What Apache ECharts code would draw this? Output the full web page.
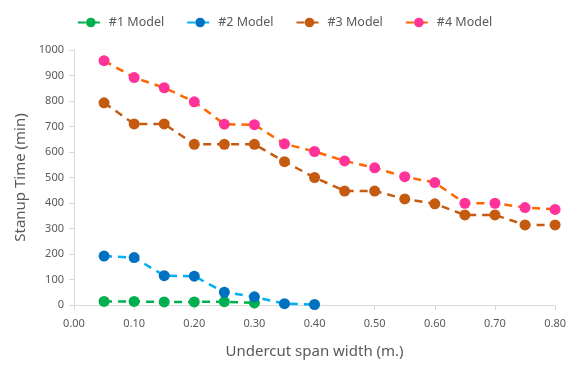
<!DOCTYPE html>
<html>
<head>
<meta charset="utf-8">
<script src="https://cdn.jsdelivr.net/npm/echarts@6/dist/echarts.min.js"></script>
<style>
  html, body { margin: 0; padding: 0; background: #fff; }
  #chart { width: 569px; height: 365px; }
</style>
</head>
<body>
<div id="chart"></div>
<script>
const spanWidth = [0.05, 0.10, 0.15, 0.20, 0.25, 0.30, 0.35, 0.40, 0.45, 0.50, 0.55, 0.60, 0.65, 0.70, 0.75, 0.80];
const model1 = [14, 14, 12, 12, 13, 8];
const model2 = [192, 186, 115, 113, 50, 32, 5, 2];
const model3 = [793, 710, 710, 630, 630, 630, 562, 500, 447, 447, 416, 397, 353, 353, 314, 314];
const model4 = [958, 892, 852, 797, 709, 707, 632, 602, 565, 538, 503, 480, 399, 399, 382, 375];

const seriesNames = ['#1 Model', '#2 Model', '#3 Model', '#4 Model'];
const lineColors = ['#00b050', '#00b0f0', '#c55a11', '#ff6600'];
const markerColors = ['#00b050', '#0070c0', '#c55a11', '#ff3399'];

const font = '"Noto Sans", sans-serif';
const textColor = '#595959';

function pairs(vals) {
    return vals.map((v, i) => [spanWidth[i], v]);
}

const chart = echarts.init(document.getElementById('chart'));

const option = {
    backgroundColor: '#fff',
    animation: false,
    legend: {
        top: 11,
        left: 'center',
        itemWidth: 26,
        itemHeight: 12,
        itemGap: 22,
        textStyle: { color: textColor, fontFamily: font, fontSize: 12.5 },
        data: seriesNames
    },
    grid: { left: 74, right: 12, top: 50, bottom: 60 },
    xAxis: {
        type: 'value',
        min: 0,
        max: 0.8,
        interval: 0.1,
        name: 'Undercut span width (m.)',
        nameLocation: 'middle',
        nameGap: 39,
        nameTextStyle: { color: textColor, fontFamily: font, fontSize: 15 },
        axisLine: { lineStyle: { color: '#d9d9d9', width: 1 } },
        axisTick: { show: true, length: 5, lineStyle: { color: '#d9d9d9' } },
        splitLine: { show: false },
        axisLabel: {
            color: textColor, fontFamily: font, fontSize: 11, margin: 13,
            formatter: v => v.toFixed(2)
        }
    },
    yAxis: {
        type: 'value',
        min: 0,
        max: 1000,
        interval: 100,
        name: 'Stanup Time (min)',
        nameLocation: 'middle',
        nameGap: 42,
        nameTextStyle: { color: textColor, fontFamily: font, fontSize: 15 },
        axisLine: { show: true, lineStyle: { color: '#d9d9d9', width: 1 } },
        axisTick: { show: true, length: 5, lineStyle: { color: '#d9d9d9' } },
        splitLine: { show: false },
        axisLabel: {
            color: textColor, fontFamily: font, fontSize: 11, margin: 10,
            formatter: v => String(v)
        }
    },
    series: [model1, model2, model3, model4].map((vals, i) => ({
        name: seriesNames[i],
        type: 'line',
        data: pairs(vals),
        symbol: 'circle',
        symbolSize: 11,
        lineStyle: { color: lineColors[i], width: 2.5, type: [8, 6] },
        itemStyle: { color: markerColors[i] },
        z: 2 + i
    }))
};

chart.setOption(option);

window.addEventListener('resize', () => {
    chart.resize();
});
</script>
</body>
</html>
